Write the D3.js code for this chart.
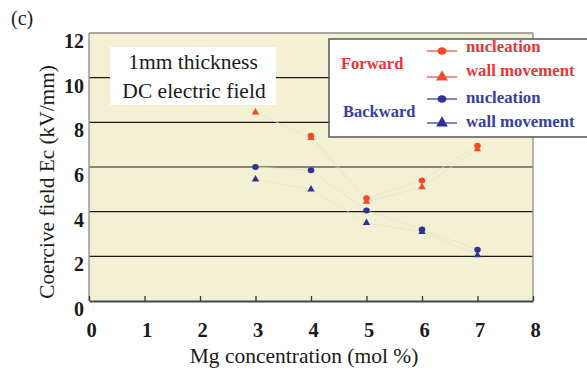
<!DOCTYPE html>
<html><head><meta charset="utf-8">
<script src="https://cdn.jsdelivr.net/npm/d3@7"></script>
<style>
html,body{margin:0;padding:0;background:#fff;}
svg{display:block;}
text{font-family:"Liberation Serif","Times New Roman",serif;}
</style></head>
<body><div id="chart"></div>
<script>
const mgConc = [3, 4, 5, 6, 7];
const fwdNucleation = [null, 7.4, 4.6, 5.4, 6.95];
const fwdWall = [8.45, 7.3, 4.45, 5.1, 6.8];
const bwdNucleation = [6.0, 5.85, 4.05, 3.2, 2.3];
const bwdWall = [5.45, 5.0, 3.5, 3.1, 2.05];
const xTicks = [0, 1, 2, 3, 4, 5, 6, 7, 8];
const yTicks = [0, 2, 4, 6, 8, 10, 12];
const gridVals = [2, 4, 6, 8, 10];

const W = 587, H = 369;
const RED = "#ee4a2c", BLUE = "#2c3594";
const RED_TXT = "#ea3438", BLUE_TXT = "#3640a0";

const svg = d3.select("#chart").append("svg").attr("width", W).attr("height", H);
const x = d3.scaleLinear().domain([0, 8]).range([89, 533]);
const y = d3.scaleLinear().domain([0, 12]).range([301, 33]);

// plot background
svg.append("rect").attr("x", x(0)).attr("y", y(12)).attr("width", x(8) - x(0)).attr("height", y(0) - y(12))
  .attr("fill", "#f3f0d4");

// gridlines
svg.append("g").selectAll("line").data(gridVals).join("line")
  .attr("x1", x(0)).attr("x2", x(8)).attr("y1", d => y(d)).attr("y2", d => y(d))
  .attr("stroke", "#1a1a1a").attr("stroke-width", 1.2);

// borders
svg.append("line").attr("x1", x(0)).attr("x2", x(8)).attr("y1", y(12)).attr("y2", y(12)).attr("stroke", "#8a8a8a").attr("stroke-width", 1.5);
svg.append("line").attr("x1", x(0)).attr("x2", x(0)).attr("y1", y(12)).attr("y2", y(0)).attr("stroke", "#9a9a9a").attr("stroke-width", 1.5);
svg.append("line").attr("x1", x(8)).attr("x2", x(8)).attr("y1", y(12)).attr("y2", y(0)).attr("stroke", "#9a9a9a").attr("stroke-width", 1.5);

// bottom axis
const xAxis = d3.axisBottom(x).tickValues(xTicks).tickSizeInner(-5).tickSizeOuter(0).tickFormat("");
const gx = svg.append("g").attr("transform", `translate(0,${y(0)})`).call(xAxis);
gx.select(".domain").attr("stroke", "#444").attr("stroke-width", 2);
gx.selectAll(".tick line").attr("stroke", "#333").attr("stroke-width", 1.3);

// x tick labels
svg.append("g").selectAll("text").data(xTicks).join("text")
  .attr("x", d => x(d) + 2.5).attr("y", 337)
  .attr("text-anchor", "middle").attr("font-size", 20.5).attr("font-weight", "bold").attr("fill", "#1a1a1a")
  .text(d => d);

// y tick labels
svg.append("g").selectAll("text").data(yTicks).join("text")
  .attr("x", 84).attr("y", d => y(d) + 15)
  .attr("text-anchor", "end").attr("font-size", 20).attr("font-weight", "bold").attr("fill", "#1a1a1a")
  .text(d => d);

// axis titles
svg.append("text").attr("x", 304).attr("y", 363).attr("text-anchor", "middle").attr("font-size", 21.5).attr("fill", "#1a1a1a")
  .text("Mg concentration (mol %)");
svg.append("text").attr("transform", "translate(54,182) rotate(-90)").attr("text-anchor", "middle").attr("font-size", 21.3).attr("fill", "#1a1a1a")
  .text("Coercive field Ec (kV/mm)");

svg.append("text").attr("x", 11).attr("y", 25).attr("font-size", 20).attr("fill", "#1a1a1a").text("(c)");

// connecting faint lines
const series = [
  {vals: fwdNucleation, color: RED, shape: "circle"},
  {vals: fwdWall, color: RED, shape: "triangle"},
  {vals: bwdNucleation, color: BLUE, shape: "circle"},
  {vals: bwdWall, color: BLUE, shape: "triangle"}
];
const line = d3.line().defined(d => d[1] != null).x(d => x(d[0])).y(d => y(d[1]));
series.forEach(s => {
  const pts = mgConc.map((c, i) => [c, s.vals[i]]);
  svg.append("path").attr("d", line(pts)).attr("fill", "none")
    .attr("stroke", "#eadfc6").attr("stroke-width", 0.7);
});

// text box
svg.append("rect").attr("x", 110).attr("y", 47).attr("width", 166).attr("height", 58).attr("fill", "#fff");
svg.append("text").attr("x", 193).attr("y", 69).attr("text-anchor", "middle").attr("font-size", 21.5).attr("fill", "#1a1a1a").text("1mm thickness");
svg.append("text").attr("x", 194).attr("y", 98).attr("text-anchor", "middle").attr("font-size", 21.5).attr("fill", "#1a1a1a").text("DC electric field");

// markers
const tri = d3.symbol().type(d3.symbolTriangle);
series.forEach(s => {
  const pts = mgConc.map((c, i) => [c, s.vals[i]]).filter(d => d[1] != null);
  const g = svg.append("g");
  if (s.shape === "circle") {
    g.selectAll("ellipse").data(pts).join("ellipse")
      .attr("cx", d => x(d[0])).attr("cy", d => y(d[1])).attr("rx", 3.3).attr("ry", 3)
      .attr("fill", s.color);
  } else {
    g.selectAll("path").data(pts).join("path")
      .attr("d", tri.size(24)()).attr("transform", d => `translate(${x(d[0])},${y(d[1])})`)
      .attr("fill", s.color);
  }
});

// legend
const lg = svg.append("g");
lg.append("rect").attr("x", 329).attr("y", 39).attr("width", 280).attr("height", 98)
  .attr("fill", "#fff").attr("stroke", "#555").attr("stroke-width", 1.5);
lg.append("text").attr("x", 341).attr("y", 69).attr("font-size", 16.5).attr("font-weight", "bold").attr("fill", RED_TXT).text("Forward");
lg.append("text").attr("x", 343).attr("y", 117).attr("font-size", 16.5).attr("font-weight", "bold").attr("fill", BLUE_TXT).text("Backward");
const legendItems = [
  {label: "nucleation", color: RED, tcolor: RED_TXT, shape: "circle", ly: 51, ty: 52},
  {label: "wall movement", color: RED, tcolor: RED_TXT, shape: "triangle", ly: 77, ty: 76},
  {label: "nucleation", color: BLUE, tcolor: BLUE_TXT, shape: "circle", ly: 99, ty: 103},
  {label: "wall movement", color: BLUE, tcolor: BLUE_TXT, shape: "triangle", ly: 123, ty: 127}
];
legendItems.forEach(it => {
  lg.append("line").attr("x1", 427).attr("x2", 457).attr("y1", it.ly).attr("y2", it.ly)
    .attr("stroke", it.color).attr("stroke-width", 1.2);
  if (it.shape === "circle") {
    lg.append("ellipse").attr("cx", 442).attr("cy", it.ly).attr("rx", 4.5).attr("ry", 3.8).attr("fill", it.color);
  } else {
    lg.append("path").attr("d", d3.symbol().type(d3.symbolTriangle).size(60)()).attr("transform", `translate(442,${it.ly})`).attr("fill", it.color);
  }
  lg.append("text").attr("x", 466).attr("y", it.ty).attr("font-size", 16.8).attr("font-weight", "bold").attr("fill", it.tcolor).text(it.label);
});
</script>
</body></html>
